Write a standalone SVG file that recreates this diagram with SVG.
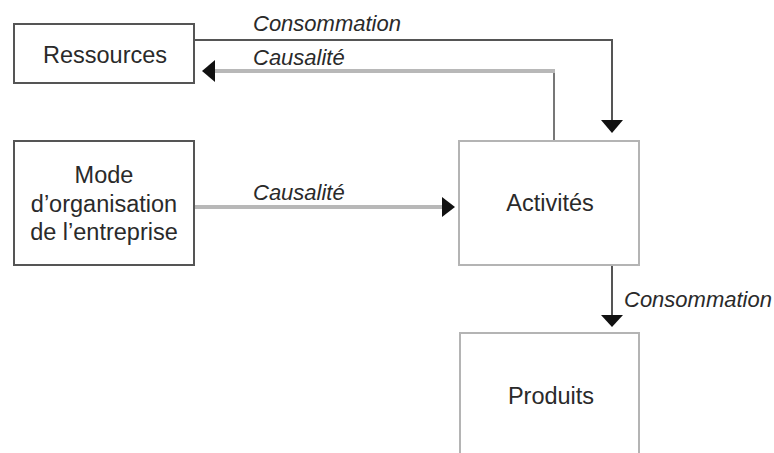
<svg xmlns="http://www.w3.org/2000/svg" width="774" height="453" viewBox="0 0 774 453">
<style>
.dark{fill:#fff;stroke:#555;stroke-width:2}
.light{fill:#fff;stroke:#b4b4b4;stroke-width:2}
.lbl{font-family:"Liberation Sans",Arial,sans-serif;font-size:23.5px;fill:#2a2a2a;text-anchor:middle}
.edge{font-family:"Liberation Sans",Arial,sans-serif;font-size:22px;font-style:italic;fill:#2a2a2a}
.thin{fill:none;stroke:#555;stroke-width:2}
.thick{fill:none;stroke:#b8b8b8;stroke-width:4}
.vthin{fill:none;stroke:#777;stroke-width:2}
.head{fill:#111}
</style>
<rect width="774" height="453" fill="#fff"/>
<g id="connectors">
  <path class="thin" d="M194 40 H612 V121"/>
  <polygon class="head" points="601,120 623,120 612,133"/>
  <path class="vthin" d="M554 141 V71"/>
  <path class="thick" d="M555 71 H214"/>
  <polygon class="head" points="215,60 215,82 202,71"/>
  <path class="thick" d="M194 207 H443"/>
  <polygon class="head" points="442,197 442,217 455,207"/>
  <path class="thin" d="M612 265 V316"/>
  <polygon class="head" points="601,315 623,315 612,327"/>
  <text class="edge" x="253" y="31">Consommation</text>
  <text class="edge" x="253" y="65">Causalité</text>
  <text class="edge" x="253" y="200">Causalité</text>
  <text class="edge" x="624" y="307">Consommation</text>
</g>
<g id="ressources">
  <rect class="dark" x="14" y="24" width="180" height="59"/>
  <text class="lbl" x="105" y="63">Ressources</text>
</g>
<g id="mode">
  <rect class="dark" x="14" y="141" width="180" height="124"/>
  <text class="lbl" x="104" y="183">Mode</text>
  <text class="lbl" x="104" y="212">d’organisation</text>
  <text class="lbl" x="104" y="240">de l’entreprise</text>
</g>
<g id="activites">
  <rect class="light" x="459" y="141" width="180" height="124"/>
  <text class="lbl" x="550" y="211">Activités</text>
</g>
<g id="produits">
  <rect class="light" x="460" y="333" width="179" height="140"/>
  <text class="lbl" x="551" y="404">Produits</text>
</g>
</svg>
